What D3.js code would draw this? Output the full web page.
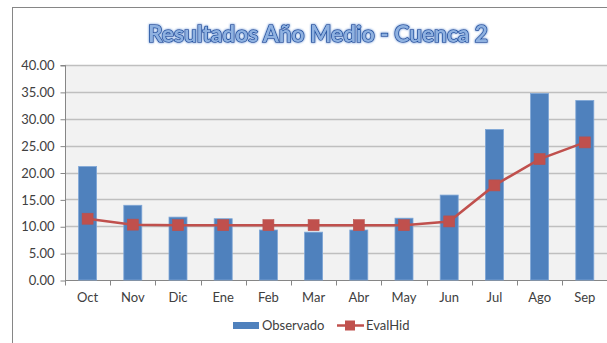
<!DOCTYPE html>
<html><head><meta charset="utf-8">
<script src="https://cdn.jsdelivr.net/npm/d3@7"></script>
<style>html,body{margin:0;padding:0;background:#fff;}svg{display:block;}</style>
</head><body>
<script>
const categories = ["Oct","Nov","Dic","Ene","Feb","Mar","Abr","May","Jun","Jul","Ago","Sep"];
const observado = [21.1,13.9,11.7,11.4,9.3,8.9,9.3,11.5,15.8,28.0,34.7,33.4];
const evalHid = [11.4,10.3,10.2,10.2,10.2,10.2,10.2,10.2,10.9,17.6,22.5,25.6];
const yTicks = [0,5,10,15,20,25,30,35,40];
const titleText = "Resultados Año Medio - Cuenca 2";
const seriesNames = ["Observado","EvalHid"];

const W = 607, H = 343;
const font = "Lato, 'Open Sans', 'Liberation Sans', sans-serif";
const svg = d3.select("body").append("svg").attr("width", W).attr("height", H);

// chart frame
svg.append("rect").attr("x",12.5).attr("y",7.5).attr("width",W).attr("height",H)
  .attr("fill","#fff").attr("stroke","#868686").attr("stroke-width",1);

const plot = {l:65, t:65, r:607.4, b:280};
const xb = d3.scaleBand().domain(categories).range([plot.l, plot.r]);
const y = d3.scaleLinear().domain([0,40]).range([plot.b, plot.t]);

svg.append("rect").attr("x",plot.l).attr("y",plot.t).attr("width",plot.r-plot.l).attr("height",plot.b-plot.t).attr("fill","#f2f2f2");

// gridlines
svg.append("g").selectAll("line").data(yTicks.slice(1)).join("line")
  .attr("x1",plot.l).attr("x2",plot.r).attr("y1",d=>Math.round(y(d))+0.5).attr("y2",d=>Math.round(y(d))+0.5)
  .attr("stroke","#bfbfbf").attr("stroke-width",1.3);

// y axis
const yAxis = d3.axisLeft(y).tickValues(yTicks).tickFormat(d3.format(".2f")).tickSize(5).tickPadding(6);
const gy = svg.append("g").attr("transform",`translate(${plot.l+0.5},0.5)`).call(yAxis);
gy.select(".domain").attr("stroke","#868686").attr("d",`M-5,${plot.t}H0V${plot.b}`);
gy.selectAll(".tick line").attr("stroke","#868686");
gy.selectAll("text").attr("fill","#404040").style("font-family",font).style("font-size","13px");

// x axis
const gx = svg.append("g").attr("transform",`translate(0,${Math.round(plot.b)+0.5})`);
gx.append("line").attr("x1",plot.l).attr("x2",plot.r).attr("stroke","#868686");
gx.selectAll("line.t").data(categories).join("line").attr("class","t")
  .attr("x1",d=>Math.round(xb(d))+0.5).attr("x2",d=>Math.round(xb(d))+0.5).attr("y1",0).attr("y2",5).attr("stroke","#868686");
gx.selectAll("text").data(categories).join("text")
  .attr("x",d=>xb(d)+xb.bandwidth()/2).attr("y",21).attr("text-anchor","middle")
  .attr("fill","#404040").style("font-family",font).style("font-size","13px").text(d=>d);

// bars
svg.append("g").selectAll("rect").data(observado).join("rect")
  .attr("x",(d,i)=>xb(categories[i])+xb.bandwidth()/2-9).attr("width",18)
  .attr("y",d=>y(d)).attr("height",d=>y(0)-y(d))
  .attr("fill","#4f81bd").attr("stroke","#7ea6d6").attr("stroke-width",0.8);

// line
const line = d3.line().x((d,i)=>xb(categories[i])+xb.bandwidth()/2).y(d=>y(d));
svg.append("path").datum(evalHid).attr("d",line).attr("fill","none").attr("stroke","#c0504d").attr("stroke-width",2.5);
svg.append("g").selectAll("rect").data(evalHid).join("rect")
  .attr("x",(d,i)=>xb(categories[i])+xb.bandwidth()/2-5.5).attr("y",d=>y(d)-5.5)
  .attr("width",11).attr("height",11).attr("fill","#c0504d").attr("stroke","#b9514e").attr("stroke-width",0.6);

// title
const defs = svg.append("defs");
const f = defs.append("filter").attr("id","glow").attr("x","-10%").attr("y","-30%").attr("width","120%").attr("height","160%");
f.append("feGaussianBlur").attr("in","SourceAlpha").attr("stdDeviation",1.2).attr("result","b");
f.append("feFlood").attr("flood-color","#9dbbe6").attr("result","c");
f.append("feComposite").attr("in","c").attr("in2","b").attr("operator","in").attr("result","g");
const fm = f.append("feMerge"); fm.append("feMergeNode").attr("in","g"); fm.append("feMergeNode").attr("in","g"); fm.append("feMergeNode").attr("in","SourceGraphic");
svg.append("text").attr("x",318).attr("y",42).attr("text-anchor","middle")
  .style("font-family",font).style("font-size","23px").style("font-weight","bold")
  .attr("fill","#8fb1e0").attr("stroke","#1f4f9e").attr("stroke-width",1.6).attr("paint-order","stroke")
  .attr("filter","url(#glow)").attr("textLength",340).attr("lengthAdjust","spacingAndGlyphs").text(titleText);

// legend
const lg = svg.append("g").style("font-family",font).style("font-size","13px");
lg.append("rect").attr("x",233).attr("y",322).attr("width",26).attr("height",7).attr("fill","#4f81bd");
lg.append("text").attr("x",262).attr("y",330).attr("fill","#404040").text(seriesNames[0]);
lg.append("line").attr("x1",337).attr("x2",364).attr("y1",325.5).attr("y2",325.5).attr("stroke","#c0504d").attr("stroke-width",2.5);
lg.append("rect").attr("x",345).attr("y",320.5).attr("width",10).attr("height",10).attr("fill","#c0504d");
lg.append("text").attr("x",366).attr("y",330).attr("fill","#404040").text(seriesNames[1]);
</script>
</body></html>
